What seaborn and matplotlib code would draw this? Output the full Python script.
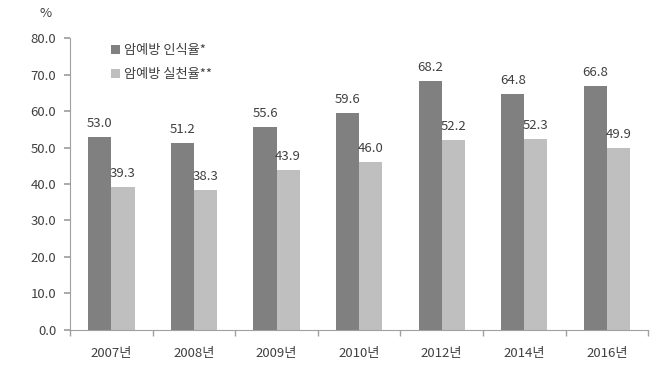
import matplotlib
matplotlib.use("Agg")
import matplotlib.pyplot as plt
import seaborn as sns
import pandas as pd
import numpy as np

years = ["2007년", "2008년", "2009년", "2010년", "2012년", "2014년", "2016년"]
awareness = [53.0, 51.2, 55.6, 59.6, 68.2, 64.8, 66.8]
practice = [39.3, 38.3, 43.9, 46.0, 52.2, 52.3, 49.9]
series_names = ["암예방 인식율*", "암예방 실천율**"]
colors = ["#808080", "#bfbfbf"]

sns.set_theme(style="white")
plt.rcParams["font.family"] = ["Noto Sans CJK KR", "DejaVu Sans"]

df = pd.DataFrame({
    "year": years * 2,
    "value": awareness + practice,
    "series": [series_names[0]] * len(years) + [series_names[1]] * len(years),
})

fig = plt.figure(figsize=(6.62, 3.89), dpi=100)
ax = fig.add_axes([0.106, 0.152, 0.873, 0.75])

sns.barplot(data=df, x="year", y="value", hue="series", palette=colors,
            width=0.56, gap=0, saturation=1, linewidth=0, ax=ax, legend=True)

for cont in ax.containers:
    ax.bar_label(cont, fmt="%.1f", padding=5, fontsize=9.5, color="#404040")

ax.set_ylim(0, 80)
ax.set_yticks(np.arange(0, 81, 10))
ax.set_yticklabels([f"{v:.1f}" for v in np.arange(0, 81, 10)], fontsize=9.5, color="#404040")
ax.set_xlim(-0.5, len(years) - 0.5)
ax.set_xticks(range(len(years)))
ax.set_xticklabels(years, fontsize=9.5, color="#404040")
ax.set_xticks(np.arange(-0.5, len(years), 1), minor=True)
ax.tick_params(axis="x", which="major", length=0, pad=12)
ax.tick_params(axis="x", which="minor", length=4, color="#a0a0a0", direction="out", bottom=True)
ax.tick_params(axis="y", length=4, color="#a0a0a0", direction="out", left=True, pad=6)
ax.set_xlabel("")
ax.set_ylabel("")

for s in ["top", "right"]:
    ax.spines[s].set_visible(False)
for s in ["left", "bottom"]:
    ax.spines[s].set_color("#a0a0a0")
    ax.spines[s].set_linewidth(0.8)

leg = ax.legend(loc="upper left", bbox_to_anchor=(0.05, 1.02), frameon=False,
                fontsize=9.5, handlelength=0.7, handleheight=0.7, handletextpad=0.3,
                labelspacing=0.85)
for t in leg.get_texts():
    t.set_color("#404040")

fig.text(0.06, 0.965, "%", fontsize=9.5, color="#404040", ha="left", va="center")

fig.savefig("out.png", dpi=100)
